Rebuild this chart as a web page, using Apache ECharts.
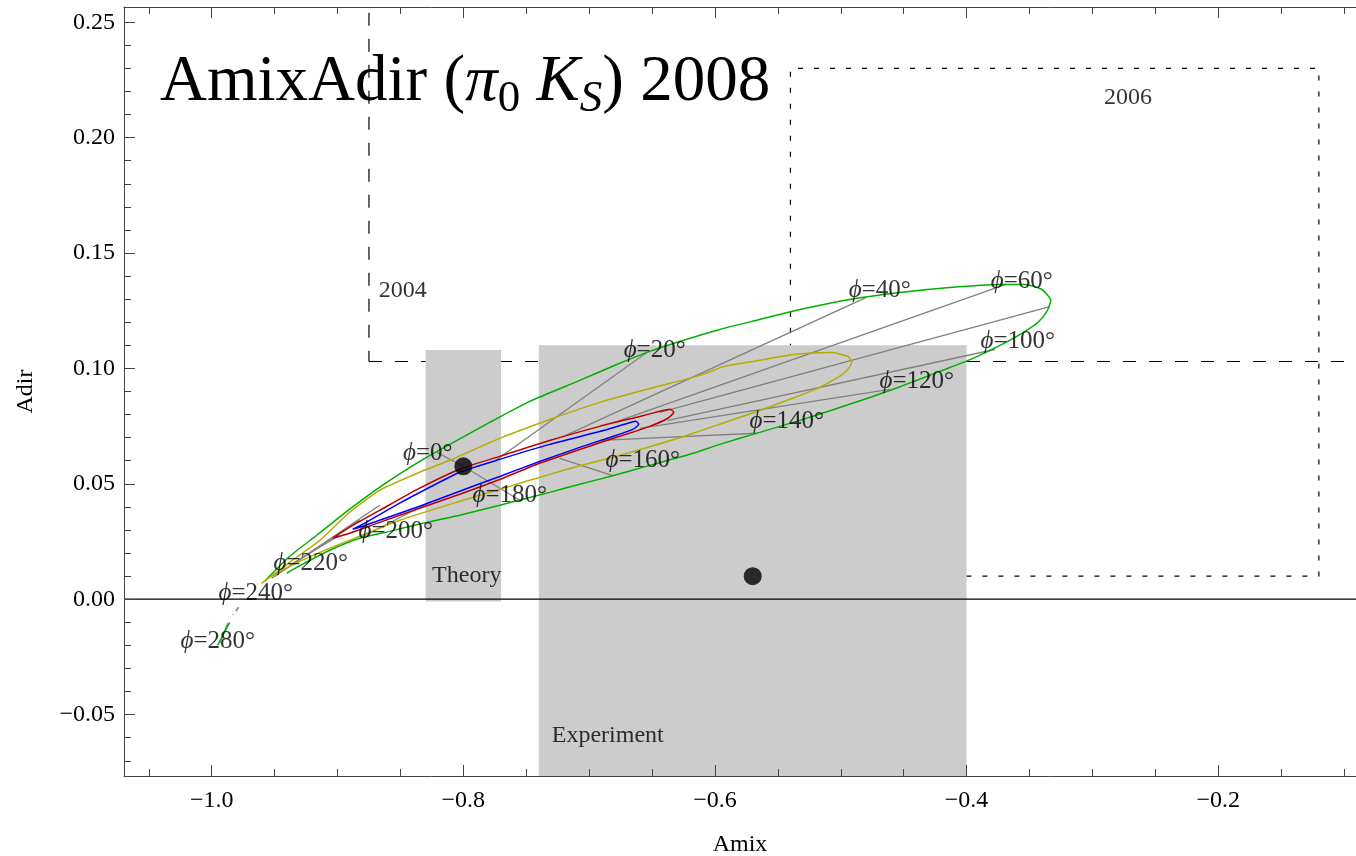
<!DOCTYPE html>
<html><head><meta charset="utf-8">
<script src="https://cdn.jsdelivr.net/npm/echarts@6/dist/echarts.min.js"></script>
<style>html,body{margin:0;padding:0;background:#fff}#c{width:1356px;height:856px}</style>
</head><body><div id="c"></div>
<script>
// ---- axis ranges & ticks ----
const X_MIN = -1.0697, X_MAX = -0.0905, Y_MIN = -0.0766, Y_MAX = 0.2566;
const xMajor = [-1.0, -0.8, -0.6, -0.4, -0.2];
const xMinor = [-1.05, -0.95, -0.9, -0.85, -0.75, -0.7, -0.65, -0.55, -0.5, -0.45, -0.35, -0.3, -0.25, -0.15, -0.1];
const yMajor = [-0.05, 0, 0.05, 0.1, 0.15, 0.2, 0.25];
const yMinor = [-0.07, -0.06, -0.04, -0.03, -0.02, -0.01, 0.01, 0.02, 0.03, 0.04, 0.06, 0.07, 0.08, 0.09,
  0.11, 0.12, 0.13, 0.14, 0.16, 0.17, 0.18, 0.19, 0.21, 0.22, 0.23, 0.24];

// ---- boxes [xmin, ymin, xmax, ymax] ----
const theoryBox = [-0.83, -0.001, -0.77, 0.108];
const experimentBox = [-0.74, -0.09, -0.40, 0.11];
const box2004 = [-0.875, 0.103, 0.0, 0.40];
const box2006 = [-0.54, 0.01, -0.12, 0.23];

// ---- central values ----
const theoryPoint = [-0.80, 0.0576];
const experimentPoint = [-0.57, 0.01];

// ---- loops (Amix, Adir) ----
const greenLoop = [[-0.9579,0.0078],[-0.9380,0.0186],[-0.9165,0.0277],[-0.8903,0.0390],[-0.8641,0.0494],[-0.8347,0.0597],[-0.8108,0.0671],[-0.7790,0.0766],[-0.7472,0.0857],[-0.7075,0.0948],[-0.6781,0.1017],[-0.6518,0.1074],[-0.6256,0.1121],[-0.5962,0.1169],[-0.5644,0.1212],[-0.5326,0.1255],[-0.4928,0.1299],[-0.4531,0.1329],[-0.4134,0.1351],[-0.3736,0.1364],[-0.3537,0.1364],[-0.3402,0.1342],[-0.3331,0.1294],[-0.3362,0.1247],[-0.3434,0.1199],[-0.3561,0.1152],[-0.3688,0.1113],[-0.3967,0.1039],[-0.4213,0.0987],[-0.4523,0.0922],[-0.4769,0.0874],[-0.5079,0.0818],[-0.5326,0.0775],[-0.5644,0.0723],[-0.5962,0.0671],[-0.6200,0.0628],[-0.6518,0.0580],[-0.6836,0.0532],[-0.7075,0.0498],[-0.7313,0.0463],[-0.7711,0.0407],[-0.8029,0.0364],[-0.8291,0.0333],[-0.8585,0.0294],[-0.8824,0.0264],[-0.9062,0.0212],[-0.9261,0.0156],[-0.9404,0.0113]];
const greenTail = [[-0.9857,-0.0100],[-0.9952,-0.0199]];
const yellowLoop = [[-0.9603,0.0069],[-0.9380,0.0160],[-0.9141,0.0255],[-0.8903,0.0377],[-0.8665,0.0472],[-0.8347,0.0550],[-0.8108,0.0602],[-0.7711,0.0697],[-0.7313,0.0779],[-0.6916,0.0853],[-0.6479,0.0918],[-0.6121,0.0970],[-0.5922,0.1009],[-0.5644,0.1035],[-0.5366,0.1061],[-0.5079,0.1069],[-0.4944,0.1052],[-0.4913,0.1026],[-0.4952,0.0991],[-0.5024,0.0961],[-0.5167,0.0918],[-0.5366,0.0874],[-0.5644,0.0818],[-0.5922,0.0766],[-0.6200,0.0714],[-0.6479,0.0667],[-0.6757,0.0623],[-0.7035,0.0584],[-0.7313,0.0541],[-0.7711,0.0476],[-0.8108,0.0411],[-0.8506,0.0342],[-0.8824,0.0273],[-0.9141,0.0203],[-0.9380,0.0143],[-0.9539,0.0095]];
const redLoop = [[-0.9038,0.0264],[-0.8903,0.0312],[-0.8665,0.0385],[-0.8347,0.0481],[-0.8029,0.0563],[-0.7711,0.0619],[-0.7313,0.0688],[-0.6916,0.0749],[-0.6598,0.0792],[-0.6439,0.0814],[-0.6359,0.0823],[-0.6327,0.0810],[-0.6375,0.0784],[-0.6518,0.0749],[-0.6757,0.0706],[-0.7075,0.0649],[-0.7393,0.0589],[-0.7711,0.0519],[-0.8029,0.0455],[-0.8347,0.0394],[-0.8665,0.0333],[-0.8903,0.0286],[-0.9038,0.0264]];
const blueLoop = [[-0.8879,0.0303],[-0.8744,0.0342],[-0.8506,0.0416],[-0.8267,0.0485],[-0.8029,0.0550],[-0.7711,0.0606],[-0.7313,0.0671],[-0.6916,0.0727],[-0.6717,0.0758],[-0.6630,0.0771],[-0.6606,0.0758],[-0.6653,0.0736],[-0.6836,0.0701],[-0.7075,0.0658],[-0.7393,0.0597],[-0.7711,0.0532],[-0.8029,0.0468],[-0.8347,0.0403],[-0.8665,0.0342],[-0.8824,0.0312],[-0.8879,0.0303]];

// ---- constant-phi lines (visible parts) ----
const phiLines = [
  [[-0.80,0.0576],[-0.8211,0.0636]],
  [[-0.7742,0.0602],[-0.6542,0.1069]],
  [[-0.7186,0.0710],[-0.4801,0.1307]],
  [[-0.6797,0.0766],[-0.3688,0.1364]],
  [[-0.6439,0.0810],[-0.3339,0.1268]],
  [[-0.6375,0.0775],[-0.3776,0.1082]],
  [[-0.6598,0.0740],[-0.4610,0.0909]],
  [[-0.6916,0.0688],[-0.5668,0.0719]],
  [[-0.7234,0.0610],[-0.6820,0.0537]],
  [[-0.80,0.0576],[-0.7552,0.0429]],
  [[-0.8267,0.0420],[-0.8824,0.0264]],
  [[-0.8983,0.0277],[-0.9380,0.0147]],
  [[-0.8824,0.0342],[-0.9499,0.0100]],
  [[-0.8665,0.0407],[-0.9523,0.0091]],
  [[-0.9873,-0.0104],[-0.9936,-0.0190]]
];
const phiDashed = [[-0.9785,-0.0035],[-0.9833,-0.0069]];

// ---- phi labels ----
const phiLabelText = ['0','20','40','60','100','120','140','160','180','200','220','240','280'];
const phiLabelX = [-0.8283,-0.6479,-0.4690,-0.3561,-0.3593,-0.4396,-0.5429,-0.6574,-0.7631,-0.8537,-0.9213,-0.9650,-0.9952];
const phiLabelY = [0.0633,0.1080,0.1338,0.1375,0.1115,0.0945,0.0770,0.0600,0.0450,0.0295,0.0155,0.0025,-0.0185];

// ---- text annotations ----
const annText = ['2004','2006','Theory','Experiment'];
const annX = [-0.8482,-0.2718,-0.7973,-0.6852];
const annY = [0.1338,0.2173,0.0100,-0.0593];

const FONT = 'Liberation Serif';
const chart = echarts.init(document.getElementById('c'), null, {renderer:'canvas'});

function rectPath(b){ return [[b[0],b[1]],[b[2],b[1]],[b[2],b[3]],[b[0],b[3]],[b[0],b[1]]]; }
function fmtX(v){ return (v < -1e-9 ? '\u2212' : '') + Math.abs(v).toFixed(1); }
function fmtY(v){ return Math.abs(v) < 1e-9 ? '0.00' : (v < 0 ? '\u2212' : '') + Math.abs(v).toFixed(2); }

const frameColor = '#444';
function xAx(pos, ticks, len, labels, extra){
  return Object.assign({
    type:'value', min:X_MIN, max:X_MAX, position:pos, z:10,
    axisLine:{show:true, onZero:false, lineStyle:{color:frameColor, width:1}},
    axisTick:{show:true, inside:true, length:len, customValues:ticks, lineStyle:{color:frameColor, width:1}},
    axisLabel:labels ? {show:true, customValues:ticks, formatter:fmtX, margin:13, fontFamily:FONT, fontSize:24, color:'#000'} : {show:false},
    splitLine:{show:false}
  }, extra || {});
}
function yAx(pos, ticks, len, labels, extra){
  return Object.assign({
    type:'value', min:Y_MIN, max:Y_MAX, position:pos, z:10,
    axisLine:{show:true, onZero:false, lineStyle:{color:frameColor, width:1}},
    axisTick:{show:true, inside:true, length:len, customValues:ticks, lineStyle:{color:frameColor, width:1}},
    axisLabel:labels ? {show:true, customValues:ticks, formatter:fmtY, margin:9, fontFamily:FONT, fontSize:24, color:'#000'} : {show:false},
    splitLine:{show:false}
  }, extra || {});
}

function boxRender(params, api){
  const p0 = api.coord([api.value(0), api.value(3)]);
  const p1 = api.coord([api.value(2), api.value(1)]);
  const cs = params.coordSys;
  const r = echarts.graphic.clipRectByRect(
    {x:p0[0], y:p0[1], width:p1[0]-p0[0], height:p1[1]-p0[1]},
    {x:cs.x, y:cs.y, width:cs.width, height:cs.height});
  return r ? {type:'rect', shape:r, style:{fill:'#cccccc'}} : null;
}

function lineSeries(data, color, z, extra){
  return Object.assign({type:'line', data:data, showSymbol:false, symbol:'none', z:z,
    lineStyle:{color:color, width:1.5}, silent:true, animation:false, clip:true}, extra || {});
}

const series = [];
series.push(lineSeries(rectPath(box2004), '#000', 1, {lineStyle:{color:'#000', width:1.2, type:[13,13]}}));
series.push(lineSeries(rectPath(box2006), '#000', 1, {lineStyle:{color:'#000', width:1.2, type:[5,11]}}));
series.push({type:'custom', renderItem:boxRender, data:[theoryBox, experimentBox], z:2, silent:true, animation:false});
series.push(lineSeries([[X_MIN,0],[X_MAX,0]], '#000', 3, {lineStyle:{color:'#000', width:1.2}}));
phiLines.forEach(l => series.push(lineSeries(l, '#808080', 4, {lineStyle:{color:'#808080', width:1.3}})));
series.push(lineSeries(phiDashed, '#808080', 4, {lineStyle:{color:'#808080', width:1.5, type:[5,4]}}));
series.push(lineSeries(greenLoop, '#00b000', 5, {smooth:0.2}));
series.push(lineSeries(greenTail, '#00b000', 5));
series.push(lineSeries(yellowLoop, '#b5ad00', 5, {smooth:0.2}));
series.push(lineSeries(redLoop, '#c00000', 5, {smooth:0.2}));
series.push(lineSeries(blueLoop, '#0000ff', 5, {smooth:0.2}));
series.push({type:'scatter', data:[theoryPoint, experimentPoint], symbolSize:18, itemStyle:{color:'#000'}, z:6, silent:true, animation:false});
series.push({type:'scatter', symbolSize:0, z:7, silent:true, animation:false,
  data: phiLabelText.map((t,i) => ({value:[phiLabelX[i], phiLabelY[i]], name:t})),
  label:{show:true, position:'inside', formatter: p => '{p|\u03D5}=' + p.name + '\u00B0',
    fontFamily:FONT, fontSize:25, color:'#000',
    rich:{p:{fontFamily:FONT, fontStyle:'italic', fontSize:25, color:'#000'}}}});
series.push({type:'scatter', symbolSize:0, z:7, silent:true, animation:false,
  data: annText.map((t,i) => ({value:[annX[i], annY[i]], name:t})),
  label:{show:true, position:'inside', formatter: p => p.name, fontFamily:FONT, fontSize:24, color:'#000'}});

chart.setOption({
  animation:false,
  backgroundColor:'#fff',
  grid:{left:124, top:7, right:0, bottom:80, containLabel:false, outerBoundsMode:'none'},
  xAxis:[
    xAx('bottom', xMajor, 11, true, {name:'Amix', nameLocation:'middle', nameGap:57, nameTextStyle:{fontFamily:FONT, fontSize:24, color:'#000'}}),
    xAx('bottom', xMinor, 7, false, {axisLine:{show:false, onZero:false}}),
    xAx('top', xMajor, 11, false),
    xAx('top', xMinor, 7, false, {axisLine:{show:false, onZero:false}})
  ],
  yAxis:[
    yAx('left', yMajor, 11, true, {name:'Adir', nameLocation:'middle', nameGap:86, nameRotate:90, nameTextStyle:{fontFamily:FONT, fontSize:24, color:'#000'}}),
    yAx('left', yMinor, 7, false, {axisLine:{show:false, onZero:false}})
  ],
  graphic:[{
    type:'text', left:160, top:43, z:20, silent:true,
    style:{
      text:'AmixAdir ({i|\u03C0}{s|0} {i|K}{si|S}) 2008',
      font:'65px "Liberation Serif"', fill:'#000', lineHeight:80,
      rich:{
        i:{fontFamily:FONT, fontSize:65, fontStyle:'italic', lineHeight:80},
        s:{fontFamily:FONT, fontSize:45, lineHeight:45, verticalAlign:'top', padding:[34,0,0,0]},
        si:{fontFamily:FONT, fontSize:45, fontStyle:'italic', lineHeight:45, verticalAlign:'top', padding:[34,0,0,0]}
      }
    }
  }],
  series: series
});
</script>
</body></html>
